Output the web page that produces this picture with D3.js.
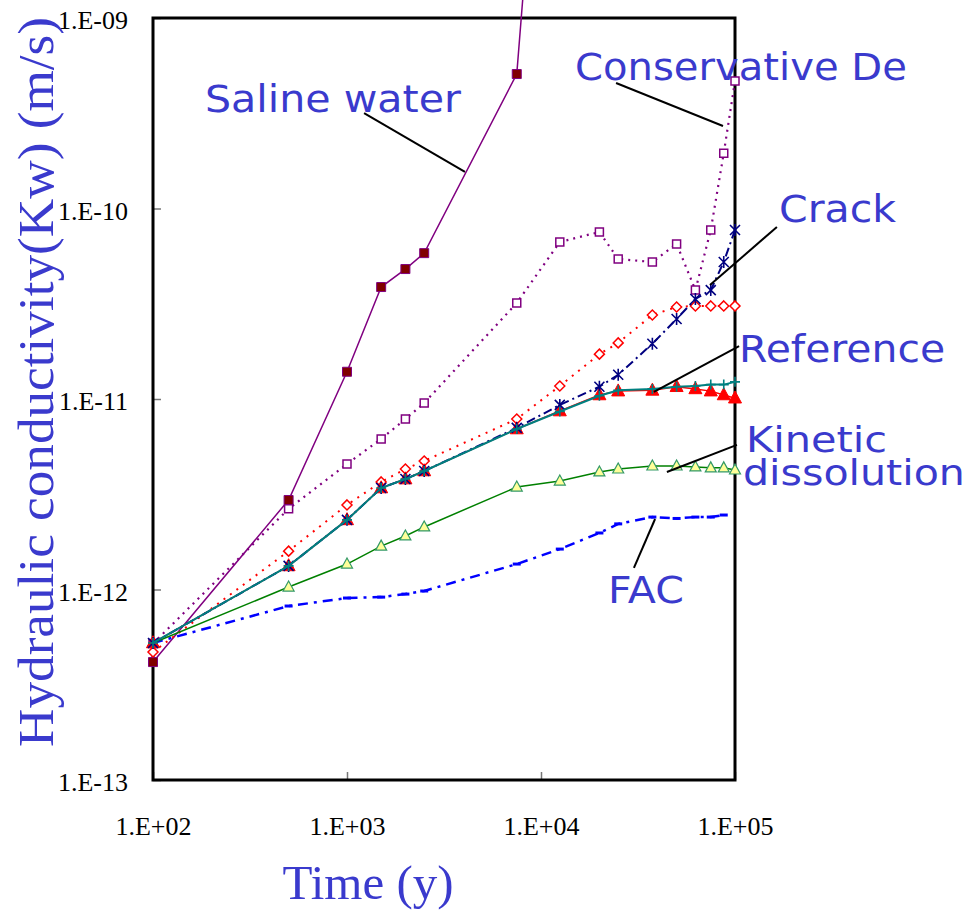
<!DOCTYPE html>
<html><head><meta charset="utf-8">
<script src="https://cdn.jsdelivr.net/npm/d3@7"></script>
<style>body{margin:0;background:#fff}svg{display:block}</style>
</head><body>
<svg id="chart" width="967" height="914"></svg>
<script>
// ---------- data ----------
const times = [100,500,1000,1500,2000,2500,7500,12500,20000,25000,37500,50000,62500,75000,87500,100000];
const salineTimes = [100,500,1000,1500,2000,2500,7500,10000];
const facTimes = [100,500,1000,1500,2000,2500,7500,12500,20000,25000,37500,50000,62500,75000,87500];
const salineWater = [4.16e-13,2.95e-12,1.39e-11,3.87e-11,4.81e-11,5.83e-11,5.08e-10,2.0e-8];
const conservativeDe = [5.2e-13,2.65e-12,4.56e-12,6.17e-12,7.85e-12,9.53e-12,3.19e-11,6.67e-11,7.53e-11,5.43e-11,5.24e-11,6.52e-11,3.73e-11,7.71e-11,1.95e-10,4.67e-10];
const diamondSeries = [4.70e-13,1.59e-12,2.78e-12,3.67e-12,4.29e-12,4.73e-12,7.85e-12,1.17e-11,1.72e-11,1.97e-11,2.76e-11,3.04e-11,3.08e-11,3.08e-11,3.08e-11,3.08e-11];
const crack = [5.24e-13,1.33e-12,2.32e-12,3.41e-12,3.80e-12,4.19e-12,7.05e-12,9.31e-12,1.16e-11,1.34e-11,1.95e-11,2.63e-11,3.35e-11,3.73e-11,5.24e-11,7.71e-11];
const reference = [5.24e-13,1.33e-12,2.32e-12,3.41e-12,3.80e-12,4.19e-12,6.96e-12,8.65e-12,1.05e-11,1.10e-11,1.11e-11,1.16e-11,1.13e-11,1.10e-11,1.05e-11,1.01e-11];
const tealSeries = [5.24e-13,1.33e-12,2.32e-12,3.41e-12,3.80e-12,4.19e-12,6.96e-12,8.6e-12,1.04e-11,1.11e-11,1.13e-11,1.16e-11,1.17e-11,1.19e-11,1.19e-11,1.23e-11];
const kinetic = [5.24e-13,1.03e-12,1.36e-12,1.69e-12,1.91e-12,2.13e-12,3.45e-12,3.71e-12,4.14e-12,4.29e-12,4.45e-12,4.45e-12,4.40e-12,4.35e-12,4.35e-12,4.24e-12];
const fac = [5.24e-13,8.19e-13,9.02e-13,9.12e-13,9.46e-13,9.82e-13,1.36e-12,1.63e-12,1.98e-12,2.21e-12,2.40e-12,2.36e-12,2.40e-12,2.40e-12,2.46e-12];

const xTickValues = [1e2,1e3,1e4,1e5];
const xTickLabels = ["1.E+02","1.E+03","1.E+04","1.E+05"];
const yTickValues = [1e-13,1e-12,1e-11,1e-10,1e-9];
const yTickLabels = ["1.E-13","1.E-12","1.E-11","1.E-10","1.E-09"];

// annotations in log10 data units: text anchor, leader start, leader end
const annLabels = ["Saline water","Conservative De","Crack","Reference","Kinetic","dissolution","FAC"];
const annText = [[2.268,-9.493],[4.175,-9.325],[5.227,-10.071],[5.021,-10.806],[5.057,-11.278],[5.041,-11.451],[4.345,-12.071]];
const annWidth = [256,332,117,206,141,222,76];
const annSize = [37,37,37,37,35,35,37];
const leaders = [
  [[3.088,-9.499],[3.608,-9.808]],
  [[4.387,-9.341],[4.938,-9.567]],
  [[5.216,-10.097],[4.871,-10.402]],
  [[5.021,-10.722],[4.582,-10.963]],
  [[5.010,-11.241],[4.649,-11.383]],
  [[4.479,-11.887],[4.588,-11.630]]
];

// ---------- layout ----------
const svg = d3.select("#chart");
const x = d3.scaleLog().domain([1e2,1e5]).range([153,735]);
const y = d3.scaleLog().domain([1e-13,1e-9]).range([780,18]);
const blue = "#3a3acd";

// axes
const yAxis = d3.axisLeft(y).tickValues(yTickValues).tickSize(-8).tickPadding(25)
  .tickFormat((d,i)=>yTickLabels[i]);
const gy = svg.append("g").attr("transform","translate(153,0)").call(yAxis);
gy.select(".domain").remove();
gy.selectAll(".tick line").attr("stroke","#777").attr("stroke-width",1.5);
gy.selectAll(".tick text").attr("font-family","'Liberation Serif', serif").attr("font-size",26).attr("fill","#000").attr("dy","0.42em");

const xAxis = d3.axisBottom(x).tickValues(xTickValues).tickSize(-8).tickPadding(37)
  .tickFormat((d,i)=>xTickLabels[i]);
const gx = svg.append("g").attr("transform","translate(0,780)").call(xAxis);
gx.select(".domain").remove();
gx.selectAll(".tick line").attr("stroke","#777").attr("stroke-width",1.5);
gx.selectAll(".tick text").attr("font-family","'Liberation Serif', serif").attr("font-size",26).attr("fill","#000");

// frame
svg.append("rect").attr("x",x(1e2)).attr("y",y(1e-9)).attr("width",x(1e5)-x(1e2)).attr("height",y(1e-13)-y(1e-9))
  .attr("fill","none").attr("stroke","#000").attr("stroke-width",3);

// titles
svg.append("text").attr("x",368).attr("y",899).attr("text-anchor","middle")
  .attr("font-family","'Liberation Serif', serif").attr("font-size",49).attr("fill",blue).text("Time (y)");
svg.append("text").attr("transform","translate(53,382) rotate(-90)").attr("text-anchor","middle")
  .attr("font-family","'Liberation Serif', serif").attr("font-size",50).attr("fill",blue)
  .attr("textLength",730).attr("lengthAdjust","spacingAndGlyphs")
  .text("Hydraulic conductivity(Kw) (m/s)");

// series drawing
const line = d3.line().x(d=>x(d[0])).y(d=>y(d[1]));
function series(ts, vals, lineStyle, marker){
  const pts = ts.map((t,i)=>[t, vals[i]]);
  const p = svg.append("path").datum(pts).attr("d",line).attr("fill","none");
  Object.entries(lineStyle).forEach(([k,v])=>p.attr(k,v));
  if (marker) {
    const g = svg.append("g");
    pts.forEach(pt=>{
      if (marker.skip && marker.skip(pt)) return;
      const m = g.append("path").attr("d",marker.d).attr("transform",`translate(${x(pt[0])},${y(pt[1])})`);
      Object.entries(marker.style).forEach(([k,v])=>m.attr(k,v));
    });
  }
}
const sq = s=>`M${-s},${-s}H${s}V${s}H${-s}Z`;
const tri = (w,h)=>`M0,${-h*0.6}L${w/2},${h*0.4}L${-w/2},${h*0.4}Z`;
const dia = s=>`M0,${-s}L${s},0L0,${s}L${-s},0Z`;

series(salineTimes, salineWater, {stroke:"#800080","stroke-width":1.5},
  {d:sq(4.5), style:{fill:"#800000",stroke:"#800080","stroke-width":1}, skip:pt=>y(pt[1])<0});
series(times, conservativeDe, {stroke:"#800080","stroke-width":2.2,"stroke-dasharray":"2,5"},
  {d:sq(4), style:{fill:"#fff",stroke:"#800080","stroke-width":1.5}});
series(times, diamondSeries, {stroke:"#ff0000","stroke-width":2,"stroke-dasharray":"2,6"},
  {d:dia(5), style:{fill:"#fff",stroke:"#ff0000","stroke-width":1.5}});
series(facTimes, fac, {stroke:"#0000ff","stroke-width":2.5,"stroke-dasharray":"10,6,3,6"},
  {d:"M-4,-1.5H4V1.5H-4Z", style:{fill:"#0000ff"}});
series(times, kinetic, {stroke:"#008000","stroke-width":1.5},
  {d:tri(11,10), style:{fill:"#ffff99",stroke:"#339966","stroke-width":1.2}});
series(times, reference, {stroke:"#ff0000","stroke-width":1.5},
  {d:tri(13,12), style:{fill:"#ff0000",stroke:"#ff0000","stroke-width":1}});
series(times, crack, {stroke:"#000080","stroke-width":2,"stroke-dasharray":"9,4,2,4"},
  {d:"M-5,-5L5,5M-5,5L5,-5M0,-6V6", style:{fill:"none",stroke:"#000080","stroke-width":1.6}});
series(times, tealSeries, {stroke:"#008080","stroke-width":2},
  {d:"M-5,0H5M0,-5V5", style:{fill:"none",stroke:"#008080","stroke-width":1.6}});

// annotations
const ax = v=>x(Math.pow(10,v)), ay = v=>y(Math.pow(10,v));
leaders.forEach(l=>{
  svg.append("line").attr("x1",ax(l[0][0])).attr("y1",ay(l[0][1])).attr("x2",ax(l[1][0])).attr("y2",ay(l[1][1]))
    .attr("stroke","#000").attr("stroke-width",2);
});
annLabels.forEach((t,i)=>{
  svg.append("text").attr("x",ax(annText[i][0])).attr("y",ay(annText[i][1]))
    .attr("font-family","'DejaVu Sans', Verdana, sans-serif").attr("font-size",annSize[i]).attr("fill",blue)
    .attr("textLength",annWidth[i]).attr("lengthAdjust","spacingAndGlyphs").text(t);
});
</script>
</body></html>
